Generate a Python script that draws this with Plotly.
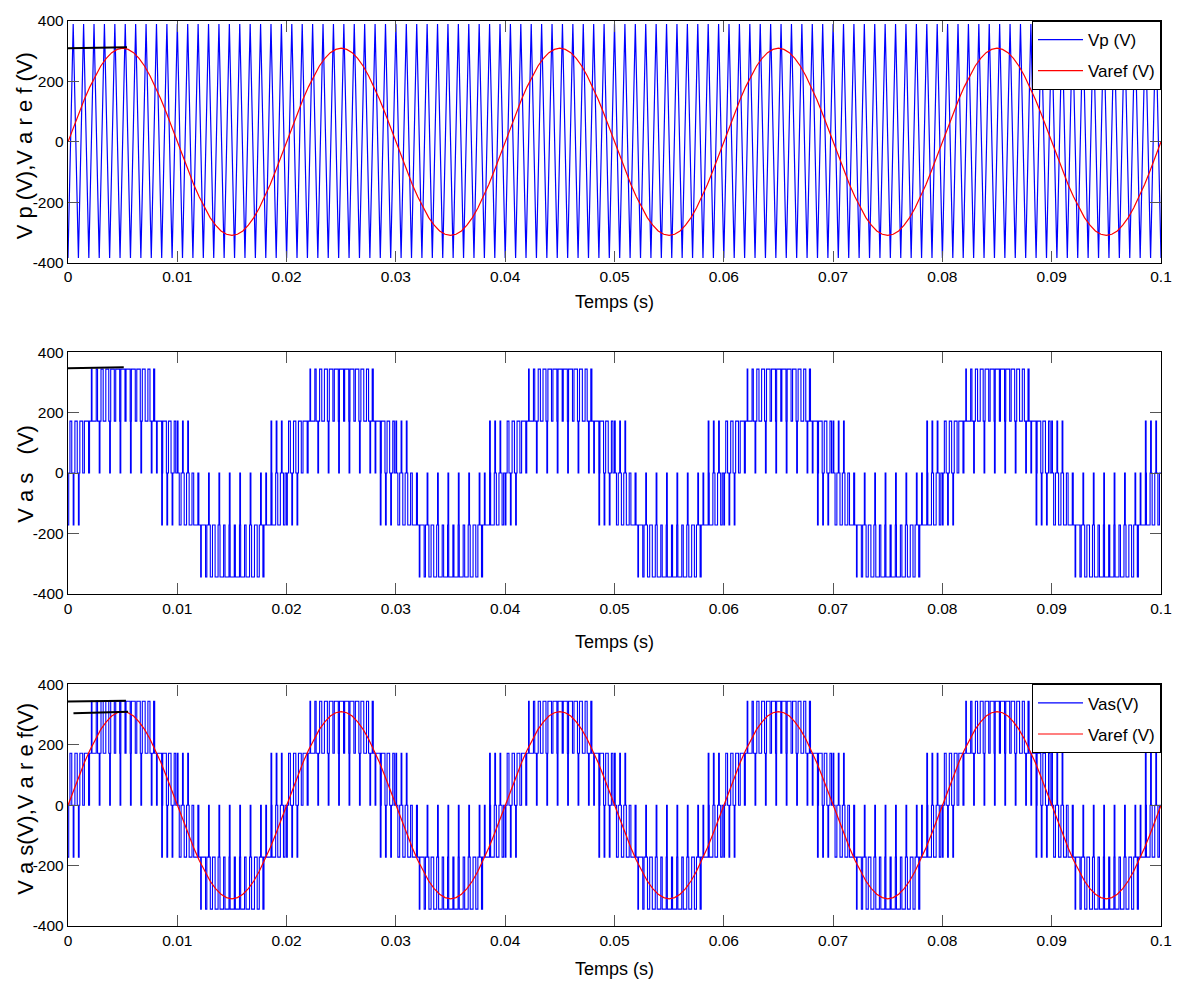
import numpy as np
import plotly.graph_objects as go

# ------------------------------------------------------------------
# Data
# ------------------------------------------------------------------
t_end = 0.1                       # s, end of the time axis
carrier_freq_hz = 1050            # 105 carrier teeth counted over 0.1 s
vp_levels = [-385, 390]           # trough / crest of the carrier Vp (V)

varef_step_s = 0.0005
varef_cycle = [0, 48, 96, 141, 182, 219, 251, 276, 295, 306,
               310, 306, 295, 276, 251, 219, 182, 141, 96, 48,
               0, -48, -96, -141, -182, -219, -251, -276, -295, -306,
               -310, -306, -295, -276, -251, -219, -182, -141, -96, -48]
n_cycles = 5

# Vas: one fundamental cycle = 42 switching slots (half carrier periods).
# For every slot: resting level, pulse level, pulse width (fraction of slot),
# and the short excursion level seen at the start of the slot.
vas_base = [0, 0, 0, 0, 172, 172, 172, 172, 172, 172, 172,
            172, 172, 172, 172, 172, 172, 0, 0, 0, 0,
            0, 0, 0, 0, -172, -172, -172, -172, -172, -172, -172,
            -172, -172, -172, -172, -172, -172, 0, 0, 0, 0]
vas_peak = [172, 172, 172, 172, 344, 344, 344, 344, 344, 344, 344,
            344, 344, 344, 344, 344, 344, 172, 172, 172, 172,
            -172, -172, -172, -172, -344, -344, -344, -344, -344, -344, -344,
            -344, -344, -344, -344, -344, -344, -172, -172, -172, -172]
vas_width = [0.35, 0.45, 0.55, 0.80, 0.12, 0.25, 0.42, 0.57, 0.69, 0.76, 0.79,
             0.79, 0.75, 0.67, 0.55, 0.40, 0.21, 0.85, 0.70, 0.50, 0.30,
             0.35, 0.45, 0.55, 0.80, 0.12, 0.25, 0.42, 0.57, 0.69, 0.76, 0.79,
             0.79, 0.75, 0.67, 0.55, 0.40, 0.21, 0.85, 0.70, 0.50, 0.30]
vas_dip = [-172, -172, -172, 0, 0, 172, 0, 172, 0, 172, 0,
           172, 0, 172, 0, 172, 0, 0, -172, -172, -172,
           172, 172, 172, 0, 0, -172, 0, -172, 0, -172, 0,
           -172, 0, -172, 0, -172, 0, 0, 172, 172, 172]

# Black level markers drawn at the start of each panel: (t0, t1, v0, v1)
mark_top = [0.0, 0.0054, 310, 313]
mark_mid = [0.0, 0.0051, 347, 350]
mark_bot_a = [0.0, 0.0053, 343, 346]
mark_bot_b = [0.0005, 0.0055, 304, 309]

x_tick_vals = [0, 0.01, 0.02, 0.03, 0.04, 0.05, 0.06, 0.07, 0.08, 0.09, 0.1]
x_tick_text = ["0", "0.01", "0.02", "0.03", "0.04", "0.05", "0.06", "0.07", "0.08", "0.09", "0.1"]
y_tick_vals = [-400, -200, 0, 200, 400]
y_tick_text = ["-400", "-200", "0", "200", "400"]

# ------------------------------------------------------------------
# Build the traces
# ------------------------------------------------------------------
n_half = int(round(t_end * 2 * carrier_freq_hz))
t_vp = np.arange(n_half + 1) / (2 * carrier_freq_hz)
y_vp = [vp_levels[i % 2] for i in range(n_half + 1)]

y_ref = varef_cycle * n_cycles + [varef_cycle[0]]
t_ref = np.arange(len(y_ref)) * varef_step_s

slot_T = 1.0 / (2 * carrier_freq_hz)
dip_frac = 0.14
pulse_center = 0.55
t_vas, y_vas = [], []
n_slots = int(round(t_end / slot_T))
for g in range(n_slots):
    k = g % len(vas_base)
    t0 = g * slot_T
    w = vas_width[k]
    ps = max(pulse_center - w / 2, dip_frac)
    pe = min(ps + w, 1.0)
    t_vas += [t0, t0 + dip_frac * slot_T, t0 + ps * slot_T, t0 + pe * slot_T]
    y_vas += [vas_dip[k], vas_base[k], vas_peak[k], vas_base[k]]
t_vas.append(t_end)
y_vas.append(vas_base[(n_slots - 1) % len(vas_base)])

BLUE = "#0000FF"
RED = "#FF0000"
FONT = "Liberation Sans Narrow, Arial Narrow, Liberation Sans, Arial, sans-serif"

fig = go.Figure()

# top panel
fig.add_trace(go.Scatter(x=t_vp, y=y_vp, mode="lines", name="Vp (V)", legendgroup="a",
                         line=dict(color=BLUE, width=1.2), xaxis="x", yaxis="y", legend="legend"))
fig.add_trace(go.Scatter(x=t_ref, y=y_ref, mode="lines", name="Varef (V)", legendgroup="b",
                         line=dict(color=RED, width=1.2), xaxis="x", yaxis="y", legend="legend"))
fig.add_trace(go.Scatter(x=mark_top[:2], y=mark_top[2:], mode="lines", showlegend=False,
                         line=dict(color="black", width=2), xaxis="x", yaxis="y"))

# middle panel
fig.add_trace(go.Scatter(x=t_vas, y=y_vas, mode="lines", line_shape="hv", showlegend=False,
                         line=dict(color=BLUE, width=1.1), xaxis="x2", yaxis="y2"))
fig.add_trace(go.Scatter(x=mark_mid[:2], y=mark_mid[2:], mode="lines", showlegend=False,
                         line=dict(color="black", width=2), xaxis="x2", yaxis="y2"))

# bottom panel
fig.add_trace(go.Scatter(x=t_vas, y=y_vas, mode="lines", line_shape="hv", name="Vas(V)",
                         legendgroup="c",
                         line=dict(color=BLUE, width=1.1), xaxis="x3", yaxis="y3", legend="legend2"))
fig.add_trace(go.Scatter(x=t_ref, y=y_ref, mode="lines", name="Varef (V)", legendgroup="d",
                         line=dict(color=RED, width=1.2), xaxis="x3", yaxis="y3", legend="legend2"))
for m in (mark_bot_a, mark_bot_b):
    fig.add_trace(go.Scatter(x=m[:2], y=m[2:], mode="lines", showlegend=False,
                             line=dict(color="black", width=2), xaxis="x3", yaxis="y3"))

axis_common = dict(showline=True, linecolor="black", linewidth=1.4, mirror="ticks",
                   ticks="inside", ticklen=11, tickwidth=1, tickcolor="#555555",
                   showgrid=False, zeroline=False,
                   tickfont=dict(family=FONT, size=15.5, color="black"))

xcommon = dict(axis_common, range=[0, t_end], tickmode="array",
               tickvals=x_tick_vals, ticktext=x_tick_text)
ycommon = dict(axis_common, range=[-400, 400], tickmode="array",
               tickvals=y_tick_vals, ticktext=y_tick_text)

legend_common = dict(xanchor="right", yanchor="top", bgcolor="white",
                     bordercolor="black", borderwidth=1, itemwidth=45,
                     tracegroupgap=6,
                     font=dict(family=FONT, size=17, color="black"))

fig.update_layout(
    width=1184, height=987,
    margin=dict(l=68, r=17, t=16, b=61),
    paper_bgcolor="white", plot_bgcolor="white",
    font=dict(family=FONT, color="black"),
    xaxis=dict(xcommon, domain=[0, 1], anchor="y"),
    yaxis=dict(ycommon, domain=[0.733, 1.0], anchor="x"),
    xaxis2=dict(xcommon, domain=[0, 1], anchor="y2"),
    yaxis2=dict(ycommon, domain=[0.367, 0.634], anchor="x2"),
    xaxis3=dict(xcommon, domain=[0, 1], anchor="y3"),
    yaxis3=dict(ycommon, domain=[0.0, 0.267], anchor="x3"),
    legend=dict(legend_common, x=1, y=1),
    legend2=dict(legend_common, x=1, y=0.267),
)

ytitle_x = -0.039
annots = [
    dict(text="V p (V),V a r e f (V)", x=ytitle_x, y=0.862, textangle=-90),
    dict(text="V a s   (V)", x=ytitle_x, y=0.50, textangle=-90),
    dict(text="V a s(V),V a r e f(V)", x=ytitle_x, y=0.141, textangle=-90),
    dict(text="Temps (s)", x=0.5, y=0.690, textangle=0),
    dict(text="Temps (s)", x=0.5, y=0.314, textangle=0),
    dict(text="Temps (s)", x=0.5, y=-0.048, textangle=0),
]
for a in annots:
    fig.add_annotation(xref="paper", yref="paper", showarrow=False,
                       xanchor="center", yanchor="middle",
                       font=dict(family=FONT, size=22 if a["textangle"] else 18, color="black"),
                       **a)

fig.write_html("out.html")
